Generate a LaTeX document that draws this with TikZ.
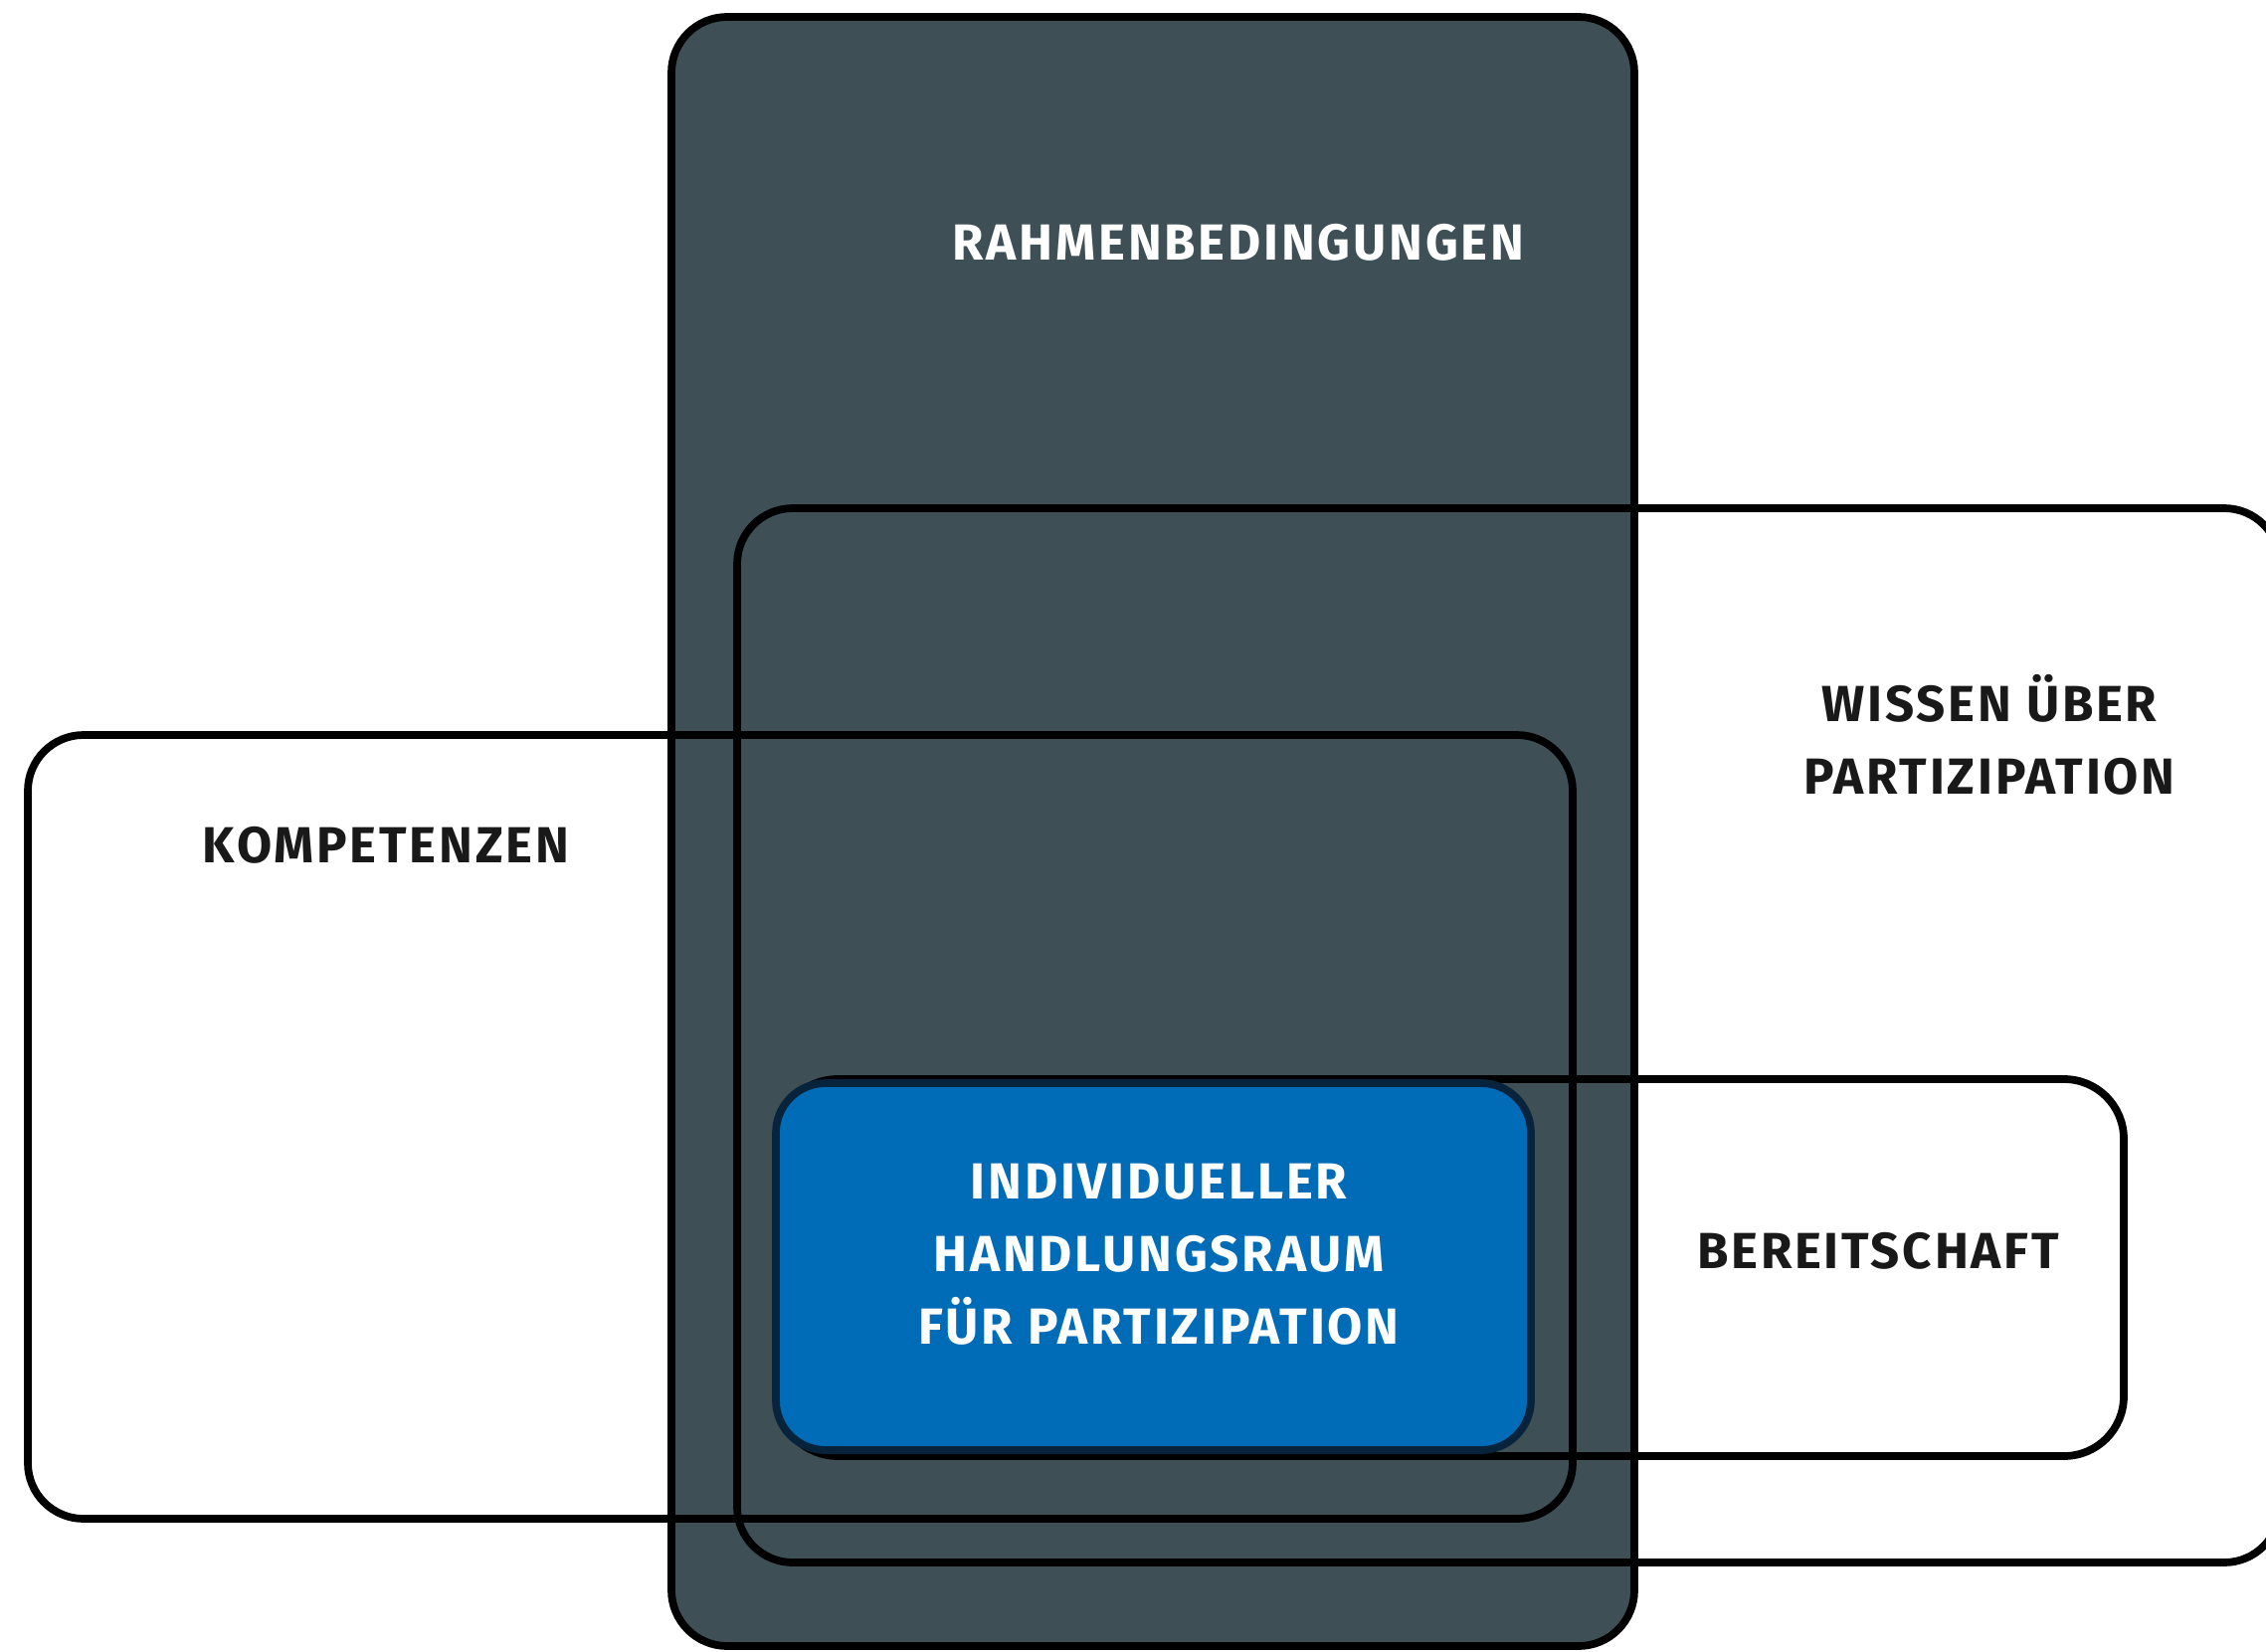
\documentclass[tikz,border=0pt]{standalone}
\usepackage{fontspec}
\setmainfont{Fira Sans}[LetterSpace=5.5]
\usepackage{xcolor}
\definecolor{slate}{RGB}{62,80,86}
\definecolor{hrblue}{RGB}{0,108,183}
\definecolor{hrnavy}{RGB}{8,36,60}
\tikzset{
    frame/.style={draw=black, line width=2.2pt, rounded corners=0.56cm},
    boxtext/.style={font=\fontsize{14.5}{20.8}\selectfont\bfseries, align=center, inner sep=0pt},
    darktext/.style={boxtext, text=black!90},
    lighttext/.style={boxtext, text=white}
}

\begin{document}
\begin{tikzpicture}[x=0.01cm, y=-0.01cm]
		\useasboundingbox (0,0) rectangle (2278,1660);

		% rahmenbedingungen
		\draw[frame, fill=slate] (675,17) rectangle (1643,1655);
		\node[lighttext] (rahmen) at (1245,244) {RAHMENBEDINGUNGEN};

		% wissen
		\draw[frame] (741,511) rectangle (2292,1571);
		\node[darktext] (wissen) at (2000,739) {WISSEN ÜBER\\PARTIZIPATION};

		% kompetenzen
		\draw[frame] (28,739) rectangle (1581,1527);
		\node[darktext] (kompetenz) at (388,850) {KOMPETENZEN};

		% bereitschaft
		\draw[frame, rounded corners=0.6cm] (782,1085) rectangle (2135,1464);
		\node[darktext] (bereit) at (1888,1258) {BEREITSCHAFT};

		% handlungsraum
		\draw[frame, draw=hrnavy, fill=hrblue, rounded corners=0.5cm] (780,1089) rectangle (1539,1458);
		\node[lighttext] (raum) at (1165,1261) {INDIVIDUELLER\\HANDLUNGSRAUM\\FÜR PARTIZIPATION};
	\end{tikzpicture}
\end{document}
